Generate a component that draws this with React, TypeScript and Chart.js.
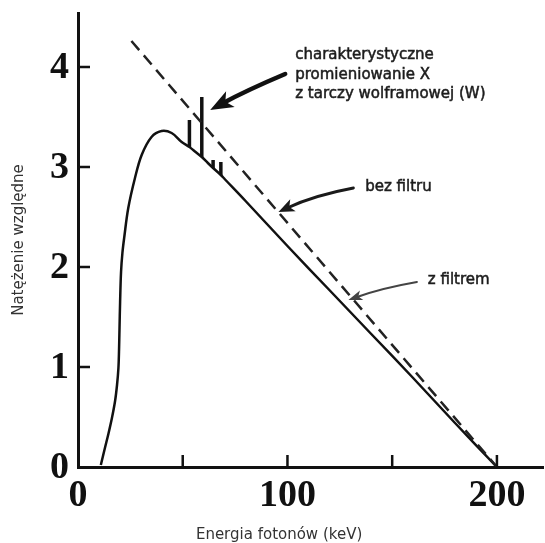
import React, { useEffect, useRef } from 'react';
import { Chart, registerables } from 'chart.js';

Chart.register(...registerables);

// Widmo po filtracji (linia ciągła)
const energyKeV = [10.9, 12.85, 14.5, 16.2, 17.7, 18.63, 19.3, 19.59, 19.8, 20.1, 20.55, 21.2, 22.1, 24, 27.2, 30.4, 35.1, 39.9, 44.7, 49.5, 53.2, 55, 59.1, 62, 64.5, 68.2, 70, 80, 100, 120, 140, 160, 180, 200];
const filteredIntensity = [0.02, 0.19, 0.33, 0.49, 0.66, 0.82, 0.99, 1.17, 1.37, 1.65, 1.95, 2.14, 2.3, 2.59, 2.89, 3.12, 3.3, 3.36, 3.34, 3.25, 3.2, 3.17, 3.1, 3.04, 2.99, 2.92, 2.88, 2.66, 2.21, 1.77, 1.33, 0.89, 0.44, 0];

// Widmo bez filtru (linia przerywana)
const unfilteredEnergyKeV = [25.5, 200];
const unfilteredIntensity = [4.26, 0];

// Linie charakterystyczne wolframu
const lineEnergyKeV = [53.2, 59.1, 64.5, 68.2];
const lineBase = [3.2, 3.1, 2.99, 2.92];
const lineTop = [3.47, 3.7, 3.07, 3.05];

// Osie
const xTickValues = [0, 50, 100, 150, 200];
const xLabelValues = [0, 100, 200];
const yTickValues = [0, 1, 2, 3, 4];

const X_MAX = 222;
const Y_MAX = 4.54;

const INK = '#111';
const TEXT_FONT = '"DejaVu Sans", sans-serif';
const NUM_FONT = '"Liberation Serif", "Times New Roman", serif';

// Opisy i strzałki w jednostkach danych (keV, natężenie)
const calloutText = ['charakterystyczne', 'promieniowanie X', 'z tarczy wolframowej (W)'];
const notes = [
  { text: calloutText[0], at: [103.7, 4.114] },
  { text: calloutText[1], at: [103.7, 3.923] },
  { text: calloutText[2], at: [103.7, 3.725] },
  { text: 'bez filtru', at: [137.1, 2.8] },
  { text: 'z filtrem', at: [167.0, 1.87] },
];
const arrows = [
  { from: [98.9, 3.93], to: [63.1, 3.57], bend: 1, width: 4.5, head: 23, spread: 9, color: '#111' },
  { from: [131.5, 2.79], to: [95.7, 2.55], bend: 2.5, width: 2.8, head: 16, spread: 6.5, color: '#1a1a1a' },
  { from: [161.8, 1.85], to: [129.1, 1.67], bend: 1.5, width: 2, head: 14, spread: 5, color: '#444' },
];
const xTitle = 'Energia fotonów (keV)';
const X_TITLE_AT = 96;
const yTitle = 'Natężenie względne';
const TICK_LEN = 12;

const pairs = (xs: number[], ys: number[]) => xs.map((x, i) => ({ x, y: ys[i] }));

const spikeData = lineEnergyKeV.flatMap((e, i) => [
  { x: e, y: lineBase[i] },
  { x: e, y: lineTop[i] },
  { x: e, y: null as any },
]);

const decorations = {
  id: 'decorations',
  afterDraw(chart: any) {
    const { ctx, chartArea, scales } = chart;
    const xs = scales.x;
    const ys = scales.y;
    ctx.save();

    // znaczniki podziałki skierowane do wnętrza wykresu
    ctx.strokeStyle = INK;
    ctx.lineWidth = 2.5;
    ctx.beginPath();
    for (const v of xTickValues) {
      if (v === 0) continue;
      const px = xs.getPixelForValue(v);
      ctx.moveTo(px, chartArea.bottom);
      ctx.lineTo(px, chartArea.bottom - TICK_LEN);
    }
    for (const v of yTickValues) {
      if (v === 0) continue;
      const py = ys.getPixelForValue(v);
      ctx.moveTo(chartArea.left, py);
      ctx.lineTo(chartArea.left + TICK_LEN, py);
    }
    ctx.stroke();

    // strzałki
    for (const a of arrows) {
      const x0 = xs.getPixelForValue(a.from[0]);
      const y0 = ys.getPixelForValue(a.from[1]);
      const x1 = xs.getPixelForValue(a.to[0]);
      const y1 = ys.getPixelForValue(a.to[1]);
      const dx = x1 - x0;
      const dy = y1 - y0;
      const len = Math.hypot(dx, dy);
      // normalna skierowana w górę
      let nx = dy / len;
      let ny = -dx / len;
      if (ny > 0) { nx = -nx; ny = -ny; }
      const cx = (x0 + x1) / 2 + nx * a.bend * 2;
      const cy = (y0 + y1) / 2 + ny * a.bend * 2;
      const tx = x1 - cx;
      const ty = y1 - cy;
      const tl = Math.hypot(tx, ty);
      const ux = tx / tl;
      const uy = ty / tl;
      const ex = x1 - ux * a.head * 0.6;
      const ey = y1 - uy * a.head * 0.6;
      ctx.strokeStyle = a.color;
      ctx.fillStyle = a.color;
      ctx.lineWidth = a.width;
      ctx.lineCap = 'round';
      ctx.beginPath();
      ctx.moveTo(x0, y0);
      ctx.quadraticCurveTo(cx, cy, ex, ey);
      ctx.stroke();
      const bx = x1 - ux * a.head;
      const by = y1 - uy * a.head;
      ctx.beginPath();
      ctx.moveTo(x1, y1);
      ctx.lineTo(bx - uy * a.spread, by + ux * a.spread);
      ctx.lineTo(x1 - ux * a.head * 0.75, y1 - uy * a.head * 0.75);
      ctx.lineTo(bx + uy * a.spread, by - ux * a.spread);
      ctx.closePath();
      ctx.fill();
    }

    // opisy
    ctx.fillStyle = '#1c1c1c';
    ctx.strokeStyle = '#1c1c1c';
    ctx.lineWidth = 0.5;
    ctx.lineCap = 'butt';
    ctx.font = `15px ${TEXT_FONT}`;
    ctx.textAlign = 'left';
    ctx.textBaseline = 'middle';
    for (const n of notes) {
      const px = xs.getPixelForValue(n.at[0]);
      const py = ys.getPixelForValue(n.at[1]);
      ctx.fillText(n.text, px, py);
      ctx.strokeText(n.text, px, py);
    }

    // tytuł osi X
    ctx.fillStyle = '#333';
    ctx.textAlign = 'center';
    ctx.fillText(xTitle, xs.getPixelForValue(X_TITLE_AT), chart.height - 8);

    ctx.restore();
  },
};

export default function App() {
  const canvasRef = useRef<HTMLCanvasElement | null>(null);

  useEffect(() => {
    const canvas = canvasRef.current;
    if (!canvas) return;
    const chart = new Chart(canvas, {
      type: 'scatter',
      data: {
        datasets: [
          {
            data: pairs(unfilteredEnergyKeV, unfilteredIntensity),
            showLine: true,
            borderColor: '#222',
            borderWidth: 2.5,
            borderDash: [12, 7],
            pointRadius: 0,
          },
          {
            data: pairs(energyKeV, filteredIntensity),
            showLine: true,
            borderColor: INK,
            borderWidth: 2.5,
            tension: 0.35,
            pointRadius: 0,
          },
          {
            data: spikeData,
            showLine: true,
            spanGaps: false,
            borderColor: INK,
            borderWidth: 3.5,
            borderCapStyle: 'butt',
            pointRadius: 0,
          },
        ],
      },
      options: {
        responsive: false,
        animation: false,
        layout: { padding: { top: 13, right: 2, left: 0, bottom: 0 } },
        plugins: {
          legend: { display: false },
          tooltip: { enabled: false },
        },
        scales: {
          x: {
            type: 'linear',
            min: 0,
            max: X_MAX,
            afterBuildTicks: (s: any) => {
              s.ticks = xTickValues.map((value) => ({ value }));
            },
            afterFit: (s: any) => {
              s.height = 76;
              s.paddingLeft = 0;
              s.paddingRight = 0;
            },
            grid: { display: false, drawTicks: false },
            border: { display: true, color: INK, width: 3 },
            ticks: {
              autoSkip: false,
              maxRotation: 0,
              padding: 6,
              color: INK,
              font: { family: NUM_FONT, weight: 'bold', size: 38 },
              callback: (v: any) => (xLabelValues.includes(Number(v)) ? String(v) : ''),
            },
          },
          y: {
            type: 'linear',
            min: 0,
            max: Y_MAX,
            afterBuildTicks: (s: any) => {
              s.ticks = yTickValues.map((value) => ({ value }));
            },
            afterFit: (s: any) => {
              s.width = 78;
              s.paddingTop = 0;
              s.paddingBottom = 0;
            },
            grid: { display: false, drawTicks: false },
            border: { display: true, color: INK, width: 3 },
            ticks: {
              padding: 9,
              labelOffset: 1,
              color: INK,
              font: { family: NUM_FONT, weight: 'bold', size: 38 },
              callback: (v: any) => String(v),
            },
            title: {
              display: true,
              text: yTitle,
              color: '#333',
              font: { family: TEXT_FONT, size: 15 },
              padding: { top: 10, bottom: 0 },
            },
          },
        },
      },
      plugins: [decorations],
    });
    return () => chart.destroy();
  }, []);

  return (
    <div style={{ position: 'fixed', left: 0, top: 0, width: 545, height: 543, background: '#fff' }}>
      <canvas ref={canvasRef} width={545} height={543} style={{ display: 'block' }} />
    </div>
  );
}
